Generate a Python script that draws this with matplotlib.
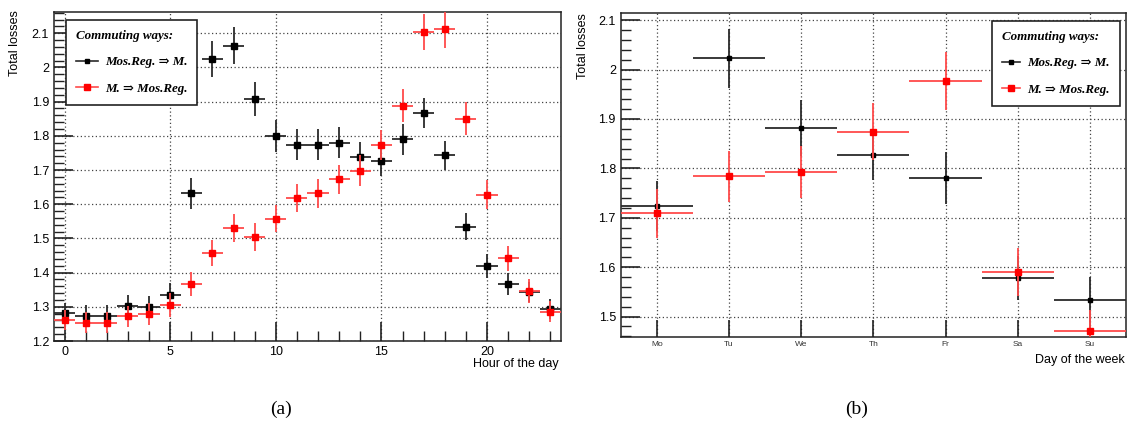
import matplotlib
matplotlib.use("Agg")
import matplotlib.pyplot as plt
from matplotlib.lines import Line2D
from matplotlib.ticker import MultipleLocator
from matplotlib.font_manager import FontProperties

# ─── Datos ────────────────────────────────────────────────────────────────────
horas = list(range(24))
hora_mos_m = [1.281, 1.274, 1.274, 1.302, 1.299, 1.334, 1.632, 2.025, 2.063, 1.907,
              1.800, 1.774, 1.774, 1.780, 1.739, 1.725, 1.790, 1.867, 1.743, 1.534,
              1.418, 1.368, 1.344, 1.293]
hora_mos_m_err = [0.030, 0.030, 0.030, 0.032, 0.032, 0.035, 0.045, 0.052, 0.054, 0.050,
                  0.046, 0.045, 0.045, 0.045, 0.043, 0.043, 0.045, 0.045, 0.043, 0.040,
                  0.035, 0.032, 0.030, 0.030]
hora_m_mos = [1.261, 1.254, 1.254, 1.272, 1.279, 1.304, 1.366, 1.458, 1.530, 1.504,
              1.558, 1.618, 1.632, 1.673, 1.698, 1.773, 1.888, 2.103, 2.112, 1.850,
              1.628, 1.442, 1.346, 1.286]
hora_m_mos_err = [0.030, 0.030, 0.030, 0.030, 0.032, 0.035, 0.035, 0.038, 0.040, 0.040,
                  0.040, 0.042, 0.043, 0.043, 0.045, 0.045, 0.048, 0.053, 0.055, 0.048,
                  0.043, 0.037, 0.035, 0.030]

dias = ["Mo", "Tu", "We", "Th", "Fr", "Sa", "Su"]
dia_mos_m = [1.7235, 2.023, 1.882, 1.828, 1.781, 1.578, 1.534]
dia_mos_m_err = [0.050, 0.060, 0.057, 0.051, 0.053, 0.045, 0.046]
dia_m_mos = [1.7087, 1.784, 1.7925, 1.874, 1.977, 1.5905, 1.470]
dia_m_mos_err = [0.050, 0.052, 0.053, 0.058, 0.059, 0.048, 0.043]

ETIQ_NEGRO = "Mos.Reg. \u21d2 M."
ETIQ_ROJO = "M. \u21d2 Mos.Reg."

NEGRO = "#000000"
NEGRO_BARRA = "#2a2a2a"
ROJO = "#ff0000"
ROJO_BARRA = "#ff4a4a"

SANS = ["Liberation Sans", "DejaVu Sans"]
SERIF = ["Liberation Serif", "DejaVu Serif"]


def estilo_ejes(ax):
    for s in ax.spines.values():
        s.set_linewidth(1.1)
        s.set_color("#222222")
    ax.tick_params(which="both", direction="in", top=False, right=False,
                   color="#222222", labelsize=9)
    ax.tick_params(which="major", length=14, width=1.2, pad=3.5)
    ax.tick_params(which="minor", length=7, width=1.0)
    ax.grid(True, which="major", color="#444444", linestyle=(0, (1, 2)),
            linewidth=0.9)
    ax.set_axisbelow(True)
    for lab in ax.get_xticklabels() + ax.get_yticklabels():
        lab.set_family(SANS)


def leyenda(ax, ms_n, ms_r, hl, **kw):
    handles = [
        Line2D([], [], color=NEGRO_BARRA, lw=1.2, marker="s", ms=ms_n,
               mfc=NEGRO, mec=NEGRO),
        Line2D([], [], color=ROJO_BARRA, lw=1.2, marker="s", ms=ms_r,
               mfc=ROJO, mec=ROJO),
    ]
    fp = FontProperties(family=SERIF, style="italic", weight="bold", size=9.4)
    leg = ax.legend(handles, [ETIQ_NEGRO, ETIQ_ROJO], title="Commuting ways:",
                    prop=fp, title_fontproperties=fp, alignment="left",
                    fancybox=False, framealpha=1, edgecolor="#222222",
                    handlelength=hl, handletextpad=0.55, borderpad=0.75,
                    labelspacing=1.1, borderaxespad=0, **kw)
    leg.get_frame().set_linewidth(1.2)
    leg.set_zorder(10)
    return leg


fig = plt.figure(figsize=(11.31, 4.22), dpi=100)

# ─── (a) Hora del día ─────────────────────────────────────────────────────────
ax1 = fig.add_axes([0.0477, 0.1919, 0.4483, 0.7796])
ax1.errorbar(horas, hora_mos_m, yerr=hora_mos_m_err, xerr=0.5, fmt="s",
             ms=3.8, color=NEGRO, ecolor=NEGRO_BARRA, elinewidth=1.3,
             capsize=0, zorder=3)
ax1.errorbar(horas, hora_m_mos, yerr=hora_m_mos_err, xerr=0.5, fmt="s",
             ms=5.0, color=ROJO, ecolor=ROJO_BARRA, elinewidth=1.3,
             capsize=0, zorder=4)
ax1.set_xlim(-0.5, 23.5)
ax1.xaxis.set_major_locator(MultipleLocator(5))
ax1.xaxis.set_minor_locator(MultipleLocator(1))
ax1.set_yticks([1.2, 1.3, 1.4, 1.5, 1.6, 1.7, 1.8, 1.9, 2.0, 2.1])
ax1.set_yticklabels(["1.2", "1.3", "1.4", "1.5", "1.6", "1.7", "1.8", "1.9",
                     "2", "2.1"])
ax1.yaxis.set_minor_locator(MultipleLocator(0.02))
ax1.set_ylim(1.2, 2.162)
estilo_ejes(ax1)
ax1.text(-0.077, 1.006, "Total losses", transform=ax1.transAxes, rotation=90,
         ha="center", va="top", fontsize=9, family=SANS)
ax1.text(0.996, -0.07, "Hour of the day", transform=ax1.transAxes,
         ha="right", va="center", fontsize=9, family=SANS)
leyenda(ax1, 3.4, 5.0, 1.7, loc="upper left", bbox_to_anchor=(0.0237, 0.9757))

# ─── (b) Día de la semana ─────────────────────────────────────────────────────
ax2 = fig.add_axes([0.5488, 0.2007, 0.4468, 0.7678])
pos = list(range(len(dias)))
ax2.errorbar(pos, dia_mos_m, yerr=dia_mos_m_err, xerr=0.5, fmt="s",
             ms=3.0, color=NEGRO, ecolor=NEGRO_BARRA, elinewidth=1.3,
             capsize=0, zorder=3)
ax2.errorbar(pos, dia_m_mos, yerr=dia_m_mos_err, xerr=0.5, fmt="s",
             ms=4.0, color=ROJO, ecolor=ROJO_BARRA, elinewidth=1.3,
             capsize=0, zorder=4)
ax2.set_xlim(-0.5, 6.5)
ax2.set_xticks(pos)
ax2.set_xticklabels(dias)
ax2.set_yticks([1.5, 1.6, 1.7, 1.8, 1.9, 2.0, 2.1])
ax2.set_yticklabels(["1.5", "1.6", "1.7", "1.8", "1.9", "2", "2.1"])
ax2.yaxis.set_minor_locator(MultipleLocator(0.02))
ax2.set_ylim(1.458, 2.114)
estilo_ejes(ax2)
ax2.tick_params(axis="x", which="major", length=12, labelsize=6, pad=3,
                labelcolor="#333333")
ax2.text(-0.0746, 1.0, "Total losses", transform=ax2.transAxes, rotation=90,
         ha="center", va="top", fontsize=9, family=SANS)
ax2.text(0.998, -0.07, "Day of the week", transform=ax2.transAxes,
         ha="right", va="center", fontsize=9, family=SANS)
leyenda(ax2, 3.0, 4.2, 1.4, loc="upper right", bbox_to_anchor=(0.988, 0.976))

# ─── Rótulos de panel ─────────────────────────────────────────────────────────
fig.text(281 / 1131, 1 - 409 / 422, "(a)", ha="center", va="center",
         fontsize=14, family=SERIF)
fig.text(857 / 1131, 1 - 409 / 422, "(b)", ha="center", va="center",
         fontsize=14, family=SERIF)

fig.savefig("out.png", dpi=100)
